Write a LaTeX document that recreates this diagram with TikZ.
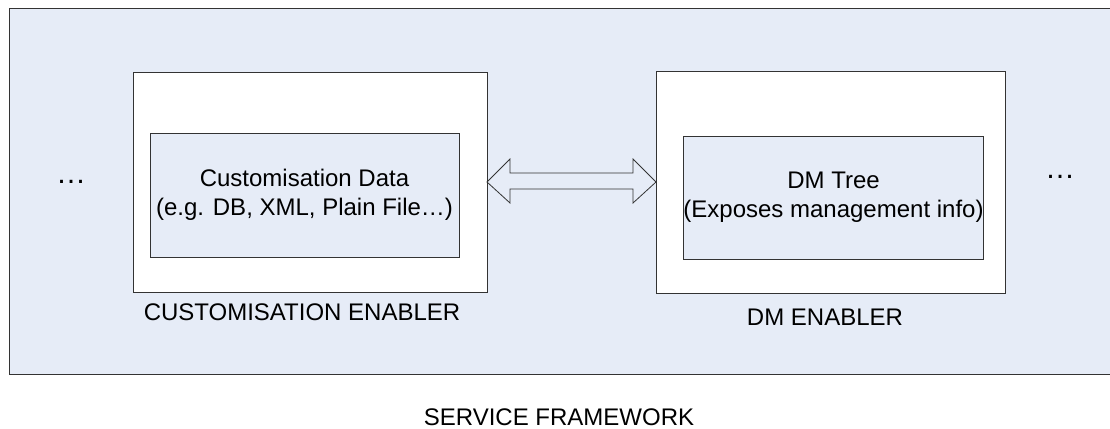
\documentclass[tikz,border=0pt]{standalone}
\usepackage{fontspec}
\setmainfont{Liberation Sans}
\usetikzlibrary{calc}
\definecolor{fwblue}{HTML}{E6ECF7}
\definecolor{edge}{HTML}{333333}
\begin{document}
\begin{tikzpicture}[x=1pt,y=-1pt,
  txt/.style={font=\fontsize{24}{29}\selectfont},
  framebox/.style={rectangle,inner sep=0pt,outer sep=0pt,draw=edge,line width=1pt},
  lbl/.style={txt,anchor=base,inner sep=0pt},
  dots/.style={lbl,font=\fontsize{30}{30}\selectfont}]
\useasboundingbox (0,0) rectangle (1110,428);
% service framework
\node[rectangle,inner sep=0pt,outer sep=0pt,fill=fwblue,minimum width=1102pt,minimum height=365pt] (fw) at (560,191.5) {};
\draw[edge,line width=1pt] (fw.north east) -- (fw.north west) -- (fw.south west) -- (fw.south east);
% enablers
\node[framebox,fill=white,minimum width=354pt,minimum height=220pt] (ce) at (310,182) {};
\node[framebox,fill=white,minimum width=349pt,minimum height=222pt] (dme) at (830.5,182) {};
% inner boxes
\node[framebox,fill=fwblue,minimum width=309pt,minimum height=124pt,txt,align=center] (cd) at (304.5,195) {Customisation Data\\(e.g. DB, XML, Plain File…)};
\node[framebox,fill=fwblue,minimum width=299pt,minimum height=123pt,txt,align=center] (dmt) at (833.5,197.5) {DM Tree\\(Exposes management info)};
% labels
\node[lbl] (celbl) at (302,320) {CUSTOMISATION ENABLER};
\node[lbl] (dmlbl) at (825,325) {DM ENABLER};
\node[lbl] (fwlbl) at (559,425) {SERVICE FRAMEWORK};
\node[dots] (dotsl) at (71,183) {…};
\node[dots] (dotsr) at (1060,178) {…};
% double block arrow
\draw[edge,fill=fwblue,line width=0.8pt,line join=miter]
  (ce.east) -- ($(ce.east)+(23,-23)$) -- ($(ce.east)+(23,-9)$)
  -- ($(dme.west)+(-23,-9)$) -- ($(dme.west)+(-23,-23)$) -- (dme.west)
  -- ($(dme.west)+(-23,21)$) -- ($(dme.west)+(-23,7)$)
  -- ($(ce.east)+(23,7)$) -- ($(ce.east)+(23,21)$) -- cycle;
\end{tikzpicture}
\end{document}
